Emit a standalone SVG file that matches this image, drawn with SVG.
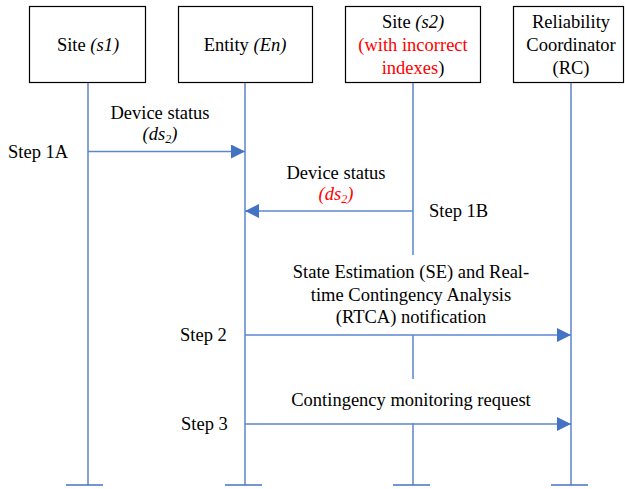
<svg xmlns="http://www.w3.org/2000/svg" width="625" height="489" viewBox="0 0 625 489" font-family="'Liberation Serif', 'Times New Roman', serif">
  <defs>
    <style>
      text { font-family: "Liberation Serif", "Times New Roman", serif; font-size: 18.5px; fill: #000; }
      .c { text-anchor: middle; }
      .i { font-style: italic; }
      .red { fill: #FF0000; }
      .box { fill: #fff; stroke: #000; stroke-width: 1.2; }
      .life { stroke: #4472C4; stroke-width: 1.3; fill: none; }
      .msg { stroke: #5B87D0; stroke-width: 1.3; fill: none; }
      .tick { stroke: #4472C4; stroke-width: 1.6; }
      .sub { font-size: 12px; }
    </style>
    <marker id="arrow" viewBox="0 0 14 14" refX="14" refY="7" markerWidth="14" markerHeight="14" markerUnits="userSpaceOnUse" orient="auto">
      <path d="M0,0 L14,7 L0,14 Z" fill="#4472C4"/>
    </marker>
  </defs>

  <rect width="625" height="489" fill="#fff"/>

  <!-- lifelines -->
  <g id="lifelines">
    <line class="life" x1="88" y1="82" x2="88" y2="485"/>
    <line class="life" x1="245" y1="82" x2="245" y2="485"/>
    <line class="life" x1="413" y1="82" x2="413" y2="255"/>
    <line class="life" x1="413" y1="335" x2="413" y2="379"/>
    <line class="life" x1="413" y1="423" x2="413" y2="485"/>
    <line class="life" x1="571" y1="82" x2="571" y2="485"/>
    <line class="tick" x1="66" y1="485" x2="103" y2="485"/>
    <line class="tick" x1="225" y1="485" x2="262" y2="485"/>
    <line class="tick" x1="393" y1="485" x2="430" y2="485"/>
    <line class="tick" x1="551" y1="485" x2="588" y2="485"/>
  </g>

  <!-- participants -->
  <g id="site-s1">
    <rect class="box" x="29.5" y="6.5" width="116" height="76"/>
    <text class="c" x="88" y="51">Site <tspan class="i">(s1)</tspan></text>
  </g>
  <g id="entity-en">
    <rect class="box" x="178.5" y="6.5" width="134" height="76"/>
    <text class="c" x="245" y="51">Entity <tspan class="i">(En)</tspan></text>
  </g>
  <g id="site-s2">
    <rect class="box" x="345.5" y="6.5" width="135" height="76"/>
    <text class="c" x="413" y="28">Site <tspan class="i">(s2)</tspan></text>
    <text class="c red" x="413" y="51">(with incorrect</text>
    <text class="c" x="413" y="74"><tspan class="red">indexes</tspan>)</text>
  </g>
  <g id="rc">
    <rect class="box" x="513.5" y="6.5" width="110" height="76"/>
    <text class="c" x="571" y="28">Reliability</text>
    <text class="c" x="571" y="51">Coordinator</text>
    <text class="c" x="571" y="74">(RC)</text>
  </g>

  <!-- messages -->
  <g id="connectors">
    <line class="msg" x1="88" y1="151.5" x2="245" y2="151.5" marker-end="url(#arrow)"/>
    <line class="msg" x1="413" y1="211" x2="245" y2="211" marker-end="url(#arrow)"/>
    <line class="msg" x1="245" y1="335" x2="571" y2="335" marker-end="url(#arrow)"/>
    <line class="msg" x1="245" y1="424" x2="571" y2="424" marker-end="url(#arrow)"/>
  </g>

  <!-- message labels -->
  <g id="labels">
    <text class="c" x="160" y="119">Device status</text>
    <text class="c i" x="160" y="140">(ds<tspan class="sub" dy="3">2</tspan><tspan dy="-3">)</tspan></text>
    <text x="8" y="158">Step 1A</text>

    <text class="c" x="336" y="179">Device status</text>
    <text class="c i red" x="336" y="200">(ds<tspan class="sub" dy="3">2</tspan><tspan dy="-3">)</tspan></text>
    <text x="429" y="217">Step 1B</text>

    <text class="c" x="411" y="278">State Estimation (SE) and Real-</text>
    <text class="c" x="411" y="301">time Contingency Analysis</text>
    <text class="c" x="411" y="323">(RTCA) notification</text>
    <text x="180" y="341">Step 2</text>

    <text class="c" x="411" y="406">Contingency monitoring request</text>
    <text x="181" y="430">Step 3</text>
  </g>
</svg>
